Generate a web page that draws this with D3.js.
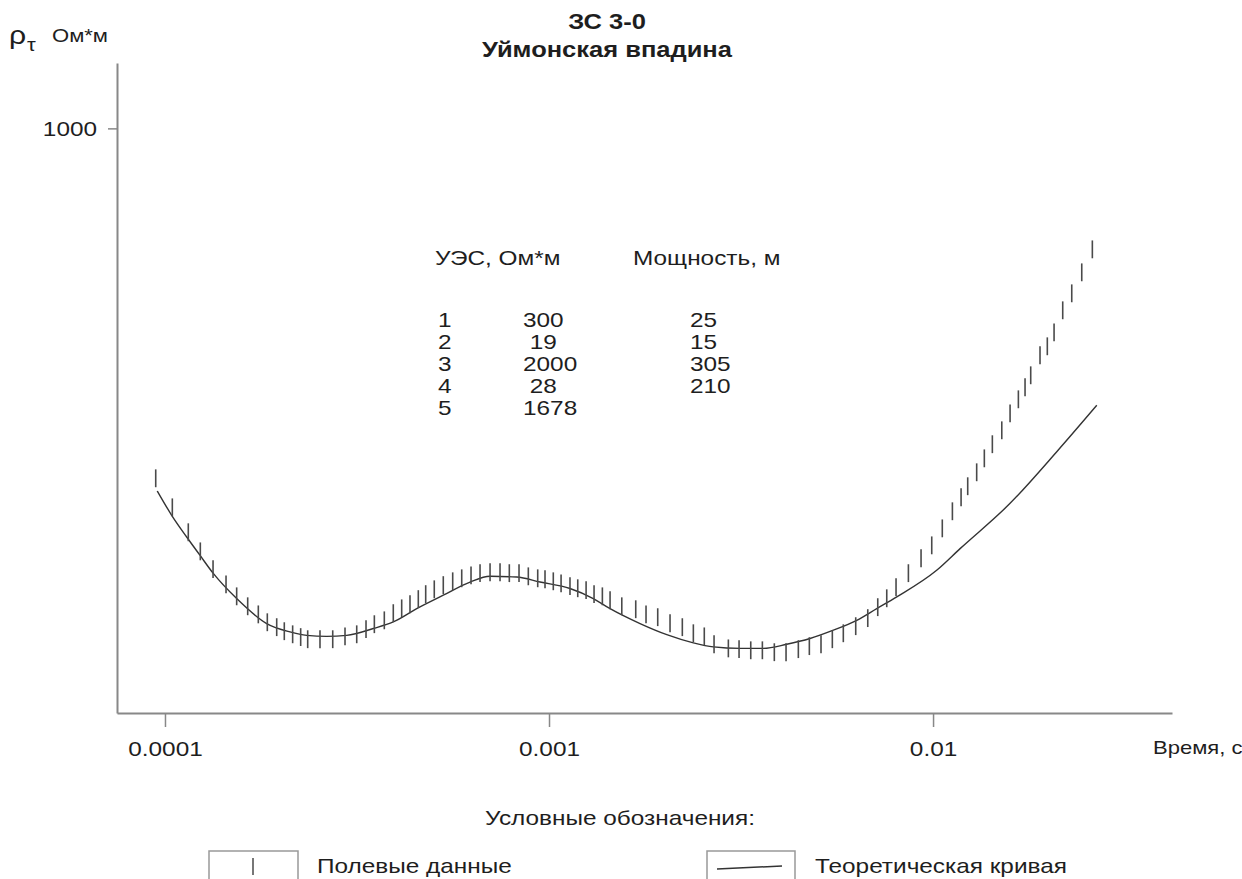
<!DOCTYPE html>
<html>
<head>
<meta charset="utf-8">
<script src="https://cdn.jsdelivr.net/npm/d3@7"></script>
<style>
  body { margin: 0; background: #fff; }
  svg { display: block; font-family: "Liberation Sans", Arial, sans-serif; }
  text { fill: #1e1e1e; white-space: pre; }
</style>
</head>
<body>
<script>
/*
 * ЗС 3-0, Уймонская впадина: apparent resistivity vs time (log-log),
 * field data as short vertical bars, theoretical curve as a line.
 */

// field data: time, s and apparent resistivity, Ohm*m
const fieldTime = [
  9.46e-5, 1.045e-4, 1.150e-4, 1.236e-4, 1.334e-4, 1.442e-4, 1.537e-4, 1.642e-4,
  1.750e-4, 1.847e-4, 1.954e-4, 2.045e-4, 2.150e-4, 2.256e-4, 2.353e-4, 2.533e-4,
  2.734e-4, 2.943e-4, 3.157e-4, 3.338e-4, 3.509e-4, 3.725e-4, 3.931e-4, 4.134e-4,
  4.345e-4, 4.567e-4, 4.774e-4, 5.026e-4, 5.305e-4, 5.613e-4, 5.925e-4, 6.265e-4,
  6.613e-4, 7.022e-4, 7.455e-4, 7.882e-4, 8.354e-4, 8.833e-4, 9.345e-4, 9.763e-4,
  1.026e-3, 1.075e-3, 1.134e-3, 1.188e-3, 1.249e-3, 1.310e-3, 1.377e-3, 1.442e-3,
  1.547e-3, 1.682e-3, 1.789e-3, 1.919e-3, 2.066e-3, 2.224e-3, 2.376e-3, 2.537e-3,
  2.690e-3, 2.931e-3, 3.125e-3, 3.352e-3, 3.594e-3, 3.861e-3, 4.142e-3, 4.459e-3,
  4.763e-3, 5.108e-3, 5.467e-3, 5.839e-3, 6.290e-3, 6.761e-3, 7.178e-3, 7.576e-3,
  8.010e-3, 8.626e-3, 9.306e-3, 9.922e-3, 1.057e-2, 1.123e-2, 1.183e-2, 1.231e-2,
  1.299e-2, 1.360e-2, 1.427e-2, 1.510e-2, 1.587e-2, 1.668e-2, 1.736e-2, 1.796e-2,
  1.899e-2, 1.984e-2, 2.066e-2, 2.176e-2, 2.297e-2, 2.439e-2, 2.599e-2
];
const fieldRho = [
  122.6, 103.0, 88.7, 79.1, 71.1, 64.9, 60.4, 56.9,
  54.2, 51.7, 50.2, 49.0, 48.1, 47.3, 46.7, 46.7,
  46.7, 47.5, 48.1, 49.6, 51.1, 52.3, 54.6, 56.2,
  57.6, 59.4, 61.2, 63.0, 64.6, 66.1, 67.3, 68.5,
  69.4, 69.8, 69.8, 69.4, 69.4, 68.1, 67.3, 66.9,
  66.1, 65.3, 64.2, 63.4, 62.7, 61.2, 60.4, 59.0,
  56.9, 55.9, 54.2, 53.3, 51.4, 50.2, 48.4, 47.5,
  45.3, 44.2, 44.0, 43.7, 43.7, 43.2, 43.2, 44.0,
  44.8, 45.3, 46.7, 48.4, 50.5, 53.0, 56.6, 59.7,
  63.8, 69.4, 75.9, 82.0, 90.8, 100.6, 109.4, 116.9,
  127.1, 138.2, 150.4, 163.5, 181.0, 196.9, 211.6, 227.4,
  256.4, 270.6, 294.2, 335.8, 371.8, 421.7, 484.0
];
// relative half-height of the field data bars
const fieldErr = 1.055;

// theoretical curve
const theoryTime = [
  9.55e-5, 1.041e-4, 1.139e-4, 1.233e-4, 1.336e-4, 1.537e-4, 1.840e-4, 2.116e-4,
  2.339e-4, 2.636e-4, 2.972e-4, 3.487e-4, 3.931e-4, 4.524e-4, 5.305e-4, 6.227e-4,
  7.022e-4, 8.240e-4, 9.475e-4, 1.134e-3, 1.304e-3, 1.442e-3, 1.726e-3, 2.026e-3,
  2.376e-3, 2.679e-3, 3.144e-3, 3.615e-3, 4.159e-3, 4.783e-3, 5.501e-3, 6.329e-3,
  7.135e-3, 8.045e-3, 1.022e-2, 1.176e-2, 1.587e-2, 2.116e-2, 2.669e-2
];
const theoryRho = [
  113.6, 98.2, 86.2, 77.3, 69.3, 59.6, 51.3, 48.8,
  47.8, 47.5, 47.8, 49.8, 51.8, 56.1, 60.8, 65.8,
  68.1, 67.8, 65.8, 63.3, 59.6, 56.1, 51.3, 48.0,
  45.7, 44.6, 44.2, 44.2, 45.3, 46.9, 49.3, 52.3,
  56.1, 60.2, 70.6, 80.4, 105.5, 145.1, 190.0
];

// axis ticks
const xTicks = [0.0001, 0.001, 0.01];
const xTickLabels = ['0.0001', '0.001', '0.01'];
const yTicks = [1000];
const yTickLabels = ['1000'];

// model table
const layerNumbers = ['1', '2', '3', '4', '5'];
const layerRho = ['300', ' 19', '2000', ' 28', '1678'];
const layerThickness = ['25', '15', '305', '210', ''];

// the reference text is drawn a bit wider than it is tall
const SX = 1.16;

const canvasWidth = 1242;
const canvasHeight = 879;
const plotLeft = 117;
const plotRight = 1172;
const plotTop = 63;
const plotBottom = 713;

/*
 * Appends a horizontally stretched text label.
 */

const addText = (parent, x, y, str, size, anchor = 'start', weight = 'normal') =>
  parent.append('text')
      .attr('transform', `translate(${x},${y}) scale(${SX},1)`)
      .attr('text-anchor', anchor)
      .style('font-size', `${size}px`)
      .style('font-weight', weight)
      .text(str);

const addTitle = svg => {
  addText(svg, 607, 29, 'ЗС 3-0', 22, 'middle', 'bold');
  addText(svg, 607, 57, 'Уймонская впадина', 22, 'middle', 'bold');
};

const addAxes = (svg, xScale, yScale) => {
  const axisColor = '#888';

  const xAxis = d3.axisBottom(xScale)
      .tickValues(xTicks)
      .tickFormat((d, i) => xTickLabels[i])
      .tickSizeInner(14)
      .tickSizeOuter(0)
      .tickPadding(14);

  const gx = svg.append('g')
      .attr('transform', `translate(0, ${plotBottom})`)
      .call(xAxis);
  gx.select('.domain').attr('stroke', axisColor).attr('stroke-width', 2);
  gx.selectAll('.tick line').attr('stroke', axisColor).attr('stroke-width', 1.5);
  gx.selectAll('.tick text')
      .attr('transform', `scale(${SX},1)`)
      .style('font-size', '21px')
      .style('font-family', '"Liberation Sans", Arial, sans-serif')
      .attr('fill', '#1e1e1e');

  const yAxis = d3.axisLeft(yScale)
      .tickValues(yTicks)
      .tickFormat((d, i) => yTickLabels[i])
      .tickSizeInner(9)
      .tickSizeOuter(0)
      .tickPadding(11);

  const gy = svg.append('g')
      .attr('transform', `translate(${plotLeft}, 0)`)
      .call(yAxis);
  gy.select('.domain').attr('stroke', axisColor).attr('stroke-width', 2);
  gy.selectAll('.tick line').attr('stroke', axisColor).attr('stroke-width', 1.5);
  gy.selectAll('.tick text')
      .attr('x', -20 / SX)
      .attr('transform', `scale(${SX},1)`)
      .style('font-size', '21px')
      .style('font-family', '"Liberation Sans", Arial, sans-serif')
      .attr('fill', '#1e1e1e');

  // axis titles
  addText(svg, 9, 44, 'ρ', 26);
  addText(svg, 27, 51, 'τ', 19);
  addText(svg, 52, 42, 'Ом*м', 19);
  addText(svg, 1153, 754, 'Время, с', 19);
};

const addTable = svg => {
  addText(svg, 435, 265, 'УЭС, Ом*м', 21);
  addText(svg, 633, 265, 'Мощность, м', 21);
  layerNumbers.forEach((n, i) => {
    const y = 327 + i * 22;
    addText(svg, 438, y, n, 21);
    addText(svg, 523, y, layerRho[i], 21);
    addText(svg, 690, y, layerThickness[i], 21);
  });
};

const addLegend = svg => {
  addText(svg, 620, 825, 'Условные обозначения:', 21, 'middle');

  svg.append('rect')
      .attr('x', 209).attr('y', 851).attr('width', 89).attr('height', 34)
      .attr('fill', 'none').attr('stroke', '#999').attr('stroke-width', 1.5);
  svg.append('line')
      .attr('x1', 253).attr('x2', 253).attr('y1', 858).attr('y2', 875)
      .attr('stroke', '#555').attr('stroke-width', 1.6);
  addText(svg, 317, 873, 'Полевые данные', 21);

  svg.append('rect')
      .attr('x', 707).attr('y', 851).attr('width', 88).attr('height', 34)
      .attr('fill', 'none').attr('stroke', '#999').attr('stroke-width', 1.5);
  svg.append('line')
      .attr('x1', 717).attr('x2', 782).attr('y1', 869).attr('y2', 866)
      .attr('stroke', '#333').attr('stroke-width', 1.5);
  addText(svg, 815, 873, 'Теоретическая кривая', 21);
};

const plotChart = () => {
  const svg = d3.select('body')
    .append('svg')
      .attr('width', canvasWidth)
      .attr('height', canvasHeight);

  svg.append('rect')
      .attr('width', canvasWidth).attr('height', canvasHeight).attr('fill', '#fff');

  const xScale = d3.scaleLog()
      .domain([7.5e-5, 0.0419])
      .range([plotLeft, plotRight]);

  const yScale = d3.scaleLog()
      .domain([30, 1480])
      .range([plotBottom, plotTop]);

  addTitle(svg);
  addAxes(svg, xScale, yScale);
  addTable(svg);

  // theoretical curve
  const line = d3.line()
      .x(d => xScale(d[0]))
      .y(d => yScale(d[1]))
      .curve(d3.curveMonotoneX);

  svg.append('path')
      .datum(d3.zip(theoryTime, theoryRho))
      .attr('d', line)
      .attr('fill', 'none')
      .attr('stroke', '#333')
      .attr('stroke-width', 1.4);

  // field data bars
  svg.append('g')
    .selectAll('line')
    .data(d3.zip(fieldTime, fieldRho))
    .enter()
    .append('line')
      .attr('x1', d => xScale(d[0]))
      .attr('x2', d => xScale(d[0]))
      .attr('y1', d => yScale(d[1] * fieldErr))
      .attr('y2', d => yScale(d[1] / fieldErr))
      .attr('stroke', '#4a4a4a')
      .attr('stroke-width', 1.6);

  addLegend(svg);
};

document.addEventListener('DOMContentLoaded', plotChart);
</script>
</body>
</html>
